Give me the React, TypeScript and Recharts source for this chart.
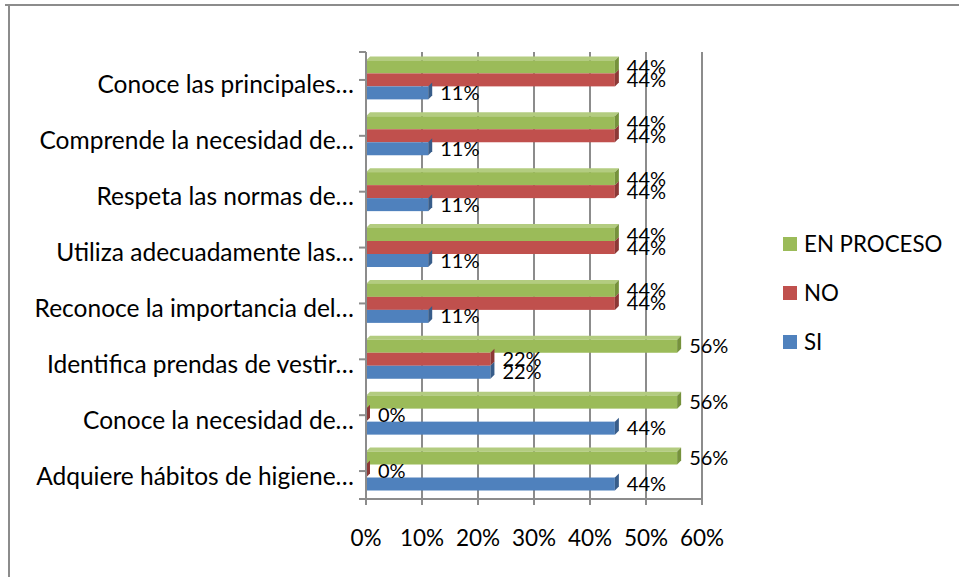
import React from 'react';
import { BarChart, Bar, XAxis, YAxis, CartesianGrid, LabelList, Legend } from 'recharts';

const categories = [
  'Conoce las principales…',
  'Comprende la necesidad de…',
  'Respeta las normas de…',
  'Utiliza adecuadamente las…',
  'Reconoce la importancia del…',
  'Identifica prendas de vestir…',
  'Conoce la necesidad de…',
  'Adquiere hábitos de higiene…',
];
const siValues = [11.11, 11.11, 11.11, 11.11, 11.11, 22.22, 44.44, 44.44];
const noValues = [44.44, 44.44, 44.44, 44.44, 44.44, 22.22, 0, 0];
const enProcesoValues = [44.44, 44.44, 44.44, 44.44, 44.44, 55.56, 55.56, 55.56];
const xTicks = [0, 10, 20, 30, 40, 50, 60];

const data = categories.map((c, i) => ({
  name: c,
  si: siValues[i],
  no: noValues[i],
  enProceso: enProcesoValues[i],
}));

const FONT = 'Lato, "Noto Sans", sans-serif';
const FS_CAT = 24.5;
const FS_AXIS = 22.5;
const FS_LEGEND = 22.3;
const FS_LABEL = 20;
const GRID = '#8c8c8c';

const makeShape = (front: string, side: string, topFace: string, showTop: boolean) => (props: any) => {
  const { x, y, width, height } = props;
  const d = 4;
  const w = Math.max(width || 0, 0);
  return (
    <g>
      {showTop && (
        <polygon points={`${x},${y} ${x + d},${y - d} ${x + w + d},${y - d} ${x + w},${y}`} fill={topFace} />
      )}
      <rect x={x} y={y} width={w} height={height} fill={front} />
      <polygon
        points={`${x + w},${y} ${x + w + d},${y - d} ${x + w + d},${y + height - d} ${x + w},${y + height}`}
        fill={side}
      />
    </g>
  );
};

const fmt = (v: any) => `${Math.round(Number(v))}%`;

const CategoryTick = (props: any) => {
  const { x, y, payload } = props;
  return (
    <text x={x} y={y} dy={4} textAnchor="end" dominantBaseline="central" fontFamily={FONT} fontSize={FS_CAT} fill="#000">
      {payload.value}
    </text>
  );
};

const ValueTick = (props: any) => {
  const { x, y, payload } = props;
  return (
    <text x={x} y={y} textAnchor="middle" dominantBaseline="central" fontFamily={FONT} fontSize={FS_AXIS} fill="#000">
      {`${payload.value}%`}
    </text>
  );
};

const renderLegend = (props: any) => {
  const items = props.payload || [];
  return (
    <div style={{ fontFamily: FONT, fontSize: FS_LEGEND, color: '#000' }}>
      {items.map((p: any) => (
        <div key={p.value} style={{ display: 'flex', alignItems: 'center', height: 49 }}>
          <span style={{ display: 'inline-block', width: 14, height: 14, background: p.color, marginRight: 7 }} />
          <span>{p.value}</span>
        </div>
      ))}
    </div>
  );
};

export default function App() {
  return (
    <div style={{ position: 'absolute', left: 0, top: 0, width: 959, height: 577, background: '#fff', overflow: 'hidden' }}>
      <div style={{ position: 'absolute', left: 5, top: 4, width: 960, height: 2, background: GRID }} />
      <div style={{ position: 'absolute', left: 8, top: 4, width: 2, height: 580, background: GRID }} />
      <div style={{ position: 'absolute', left: 0, top: 0 }}>
        <BarChart
          width={959}
          height={577}
          data={data}
          layout="vertical"
          margin={{ top: 52, right: 257, bottom: 38, left: 0 }}
          barCategoryGap="15%"
          barGap={0}
        >
          <CartesianGrid vertical={true} horizontal={false} stroke={GRID} strokeWidth={2} />
          <CartesianGrid
            vertical={false}
            horizontal={(p: any) => (
              <line key={`h-${p.index}-${p.y1}`} x1={p.x1 - 7} x2={p.x1} y1={p.y1} y2={p.y2} stroke={GRID} strokeWidth={2} />
            )}
          />
          <XAxis
            type="number"
            domain={[0, 60]}
            ticks={xTicks}
            interval={0}
            height={40}
            axisLine={{ stroke: GRID, strokeWidth: 2 }}
            tickLine={{ stroke: GRID, strokeWidth: 2 }}
            tickSize={6}
            tickMargin={32}
            tick={<ValueTick />}
          />
          <YAxis
            type="category"
            dataKey="name"
            width={366}
            axisLine={{ stroke: GRID, strokeWidth: 2 }}
            tickLine={false}
            tickSize={6}
            tickMargin={6}
            interval={0}
            tick={<CategoryTick />}
          />
          <Legend
            layout="vertical"
            align="center"
            verticalAlign="middle"
            content={renderLegend}
            wrapperStyle={{ position: 'absolute', left: 783, top: 219, width: 175 }}
          />
          <Bar dataKey="enProceso" name="EN PROCESO" fill="#9BBB59" isAnimationActive={false}
            shape={makeShape('#9BBB59', '#76923C', '#B3CC80', true)}>
            <LabelList dataKey="enProceso" position="right" offset={12} formatter={fmt}
              style={{ fontFamily: FONT, fontSize: FS_LABEL, fill: '#000' }} />
          </Bar>
          <Bar dataKey="no" name="NO" fill="#C0504D" isAnimationActive={false}
            shape={makeShape('#C0504D', '#8C3836', '#D07D7B', false)}>
            <LabelList dataKey="no" position="right" offset={12} formatter={fmt}
              style={{ fontFamily: FONT, fontSize: FS_LABEL, fill: '#000' }} />
          </Bar>
          <Bar dataKey="si" name="SI" fill="#4F81BD" isAnimationActive={false}
            shape={makeShape('#4F81BD', '#385D8A', '#7FA3CF', false)}>
            <LabelList dataKey="si" position="right" offset={12} formatter={fmt}
              style={{ fontFamily: FONT, fontSize: FS_LABEL, fill: '#000' }} />
          </Bar>
        </BarChart>
      </div>
    </div>
  );
}
